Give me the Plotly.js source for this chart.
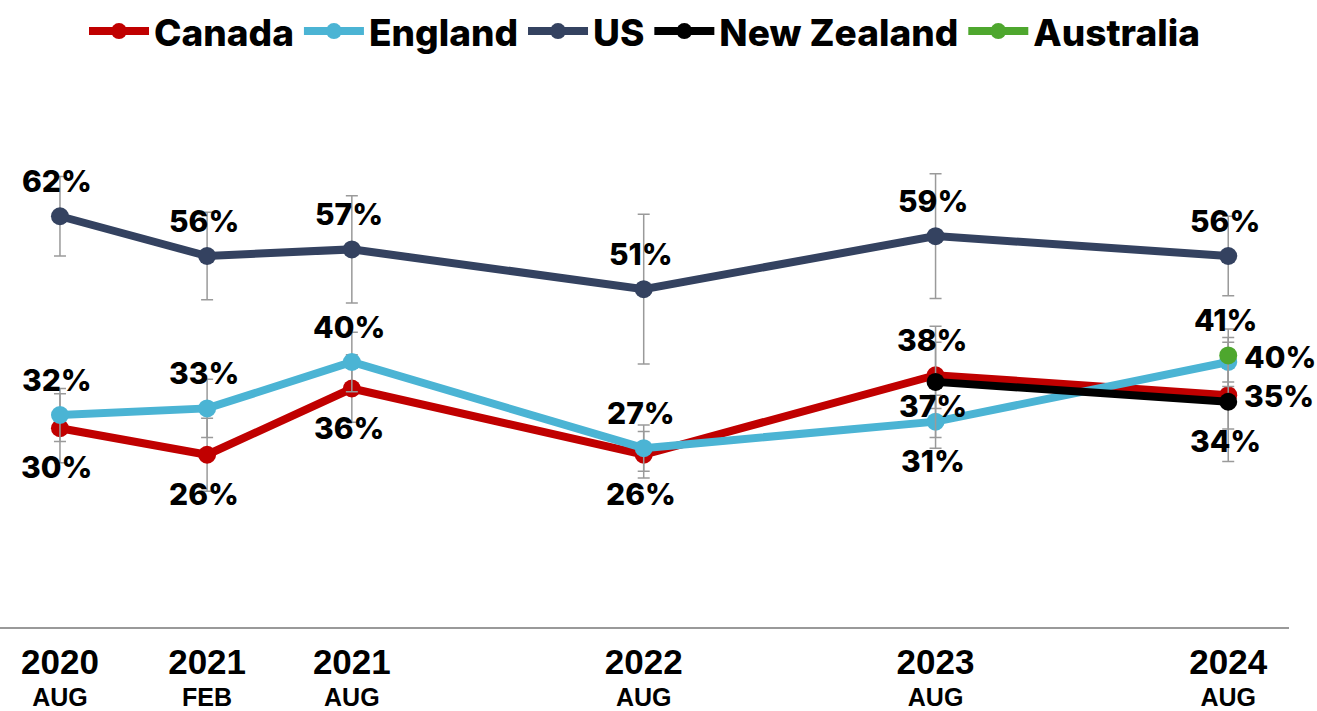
<!DOCTYPE html>
<html><head><meta charset="utf-8">
<script src="https://cdn.plot.ly/plotly-3.0.1.min.js"></script>
<style>html,body{margin:0;padding:0;background:#fff}#chart{width:1317px;height:711px}</style>
</head><body><div id="chart"></div>
<script>
// ---- data ----
const dates = ['2020-08-01','2021-02-01','2021-08-01','2022-08-01','2023-08-01','2024-08-01'];
const tickYears = ['2020','2021','2021','2022','2023','2024'];
const tickMonths = ['AUG','FEB','AUG','AUG','AUG','AUG'];
const canada = [30,26,36,26,38,35];
const england = [32,33,40,27,31,40];
const us = [62,56,57,51,59,56];
const nzDates = ['2023-08-01','2024-08-01'];
const newZealand = [37,34];
const auDates = ['2024-08-01'];
const australia = [41];
const canadaErr = [5.2,5.5,5.1,3.5,5,5.1];
const englandErr = [4,4.4,4.5,3.5,4,3.7];
const usErr = [6,6.6,8.1,11.3,9.4,6];
const nzErr = [8.4,9];
const auErr = [4];

// ---- label placement (style) ----
const canadaPos = ['b','b','b','b','t','r'];
const englandPos = ['t','t','t','t','b','ru'];
const usPos = ['t','t','t','t','t','t'];
const nzPos = ['n','b'];
const auPos = ['t'];
const shifts = {t:[-3,35], b:[-3,-39], n:[-3,-24], r:[14,-1], ru:[14,5]};

const colors = {canada:'#C00000', england:'#4BB4D4', us:'#344260', nz:'#000000', au:'#4EA72E'};

function mk(name, x, y, err, color){
  return {
    type:'scatter', mode:'lines+markers', name:name, x:x, y:y,
    line:{color:color, width:8},
    marker:{color:color, size:18},
    error_y:{type:'data', array:err, visible:true, color:'#9a9a9a', thickness:1.5, width:6},
    hoverinfo:'x+y'
  };
}
const traces = [
  mk('Canada', dates, canada, canadaErr, colors.canada),
  mk('England', dates, england, englandErr, colors.england),
  mk('US', dates, us, usErr, colors.us),
  mk('New Zealand', nzDates, newZealand, nzErr, colors.nz),
  mk('Australia', auDates, australia, auErr, colors.au)
];

const annotations = [];
function addLabels(x, y, pos){
  for (let i=0;i<y.length;i++){
    const s = shifts[pos[i]];
    annotations.push({
      x:x[i], y:y[i], xref:'x', yref:'y', text:y[i]+'%', showarrow:false,
      xanchor: pos[i][0]==='r' ? 'left' : 'center', yanchor:'middle',
      xshift:s[0], yshift:s[1],
      font:{family:'Inter, "Open Sans", sans-serif', size:30, weight:800, color:'#000'}
    });
  }
}
addLabels(dates, canada, canadaPos);
addLabels(dates, england, englandPos);
addLabels(dates, us, usPos);
addLabels(nzDates, newZealand, nzPos);
addLabels(auDates, australia, auPos);

const ticktext = tickYears.map((y,i)=> '<span style="font-size:35px"><b>'+y+'</b></span><br><b>'+tickMonths[i]+'</b>');

const layout = {
  width:1317, height:711,
  margin:{l:0, r:28, t:97, b:84},
  paper_bgcolor:'#fff', plot_bgcolor:'#fff',
  showlegend:true,
  legend:{orientation:'h', x:0.5, xanchor:'center', y:1.182, yanchor:'top',
    font:{family:'Inter, "Open Sans", sans-serif', size:37, weight:800, color:'#000'},
    itemwidth:60, traceorder:'normal'},
  xaxis:{type:'date', range:['2020-05-18','2024-10-16'], tickvals:dates, ticktext:ticktext,
    showgrid:false, zeroline:false, showline:true, linecolor:'#999', linewidth:1.5,
    ticks:'', ticklabelstandoff:15,
    tickfont:{family:'"Liberation Sans", Arial, sans-serif', size:25, color:'#000'}, fixedrange:true},
  yaxis:{range:[0,80], showgrid:false, zeroline:false, showline:false, showticklabels:false, ticks:'', fixedrange:true},
  annotations:annotations
};
Plotly.newPlot('chart', traces, layout, {displayModeBar:false, staticPlot:true});
</script>
</body></html>
